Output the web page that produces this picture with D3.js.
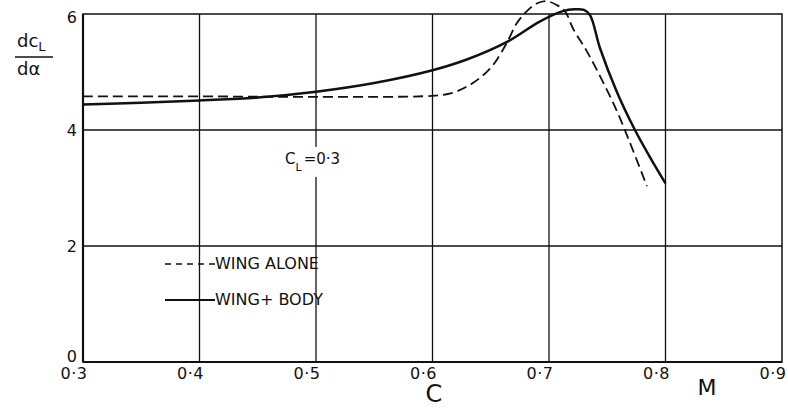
<!DOCTYPE html>
<html>
<head>
<meta charset="utf-8">
<script src="https://cdn.jsdelivr.net/npm/d3@7/dist/d3.min.js"></script>
<style>
  html, body { margin: 0; padding: 0; background: #fff; }
  svg { display: block; }
  text { font-family: "DejaVu Sans", sans-serif; fill: #111; }
</style>
</head>
<body>
<svg id="chart" width="788" height="408"></svg>
<script>
// Mach number ticks and lift-slope ticks
const machTicks = [0.3, 0.4, 0.5, 0.6, 0.7, 0.8, 0.9];
const machTickLabels = ["0·3", "0·4", "0·5", "0·6", "0·7", "0·8", "0·9"];
const slopeTicks = [0, 2, 4, 6];
const slopeTickLabels = ["0", "2", "4", "6"];

// Wing alone (dashed)
const machWingAlone  = [0.30, 0.40, 0.50, 0.60, 0.6155, 0.6288, 0.6408, 0.652, 0.6637, 0.6723, 0.681, 0.6894, 0.698, 0.7066, 0.7137, 0.7206, 0.7324, 0.7438, 0.755, 0.7627, 0.7841];
const slopeWingAlone = [4.58, 4.58, 4.57, 4.59, 4.63, 4.74, 4.90, 5.12, 5.50, 5.84, 6.05, 6.18, 6.22, 6.155, 6.05, 5.75, 5.36, 4.93, 4.47, 4.12, 3.03];

// Wing + body (solid)
const machWingBody  = [0.30, 0.35, 0.40, 0.45, 0.50, 0.55, 0.60, 0.63, 0.664, 0.692, 0.712, 0.722, 0.730, 0.7352, 0.7438, 0.758, 0.7738, 0.787, 0.800];
const slopeWingBody = [4.44, 4.47, 4.51, 4.56, 4.66, 4.81, 5.03, 5.22, 5.52, 5.87, 6.05, 6.08, 6.07, 5.98, 5.41, 4.67, 4.00, 3.52, 3.08];

const legendLabels = ["WING ALONE", "WING+ BODY"];
const annotation = { c: "C", sub: "L", rest: "=0·3", mach: 0.5, value: 3.45 };

const svg = d3.select("#chart");
const x = d3.scaleLinear().domain([0.3, 0.9]).range([83, 782]);
const y = d3.scaleLinear().domain([0, 6]).range([362, 14]);

const ink = "#111";

// grid
const grid = svg.append("g");
grid.selectAll("line.v").data(machTicks.slice(1, -1)).join("line")
  .attr("x1", d => x(d)).attr("x2", d => x(d))
  .attr("y1", y(6)).attr("y2", y(0))
  .attr("stroke", ink).attr("stroke-width", 1.3);
grid.selectAll("line.h").data(slopeTicks.slice(1, -1)).join("line")
  .attr("x1", x(0.3)).attr("x2", x(0.9))
  .attr("y1", d => y(d)).attr("y2", d => y(d))
  .attr("stroke", ink).attr("stroke-width", 1.3);

// frame
svg.append("rect")
  .attr("x", x(0.3)).attr("y", y(6))
  .attr("width", x(0.9) - x(0.3)).attr("height", y(0) - y(6))
  .attr("fill", "none").attr("stroke", ink).attr("stroke-width", 1.5);
svg.append("line").attr("x1", x(0.3)).attr("x2", x(0.3)).attr("y1", y(6)).attr("y2", y(0))
  .attr("stroke", ink).attr("stroke-width", 2.2);
svg.append("line").attr("x1", x(0.3)).attr("x2", x(0.9)).attr("y1", y(0)).attr("y2", y(0))
  .attr("stroke", ink).attr("stroke-width", 2.2);

// axes (labels only)
const xAxis = svg.append("g").attr("transform", `translate(0,${y(0)})`)
  .call(d3.axisBottom(x).tickValues(machTicks)
    .tickFormat((d, i) => machTickLabels[i]).tickSize(0).tickPadding(6));
xAxis.select(".domain").remove();
xAxis.selectAll("text").attr("text-anchor", "end").attr("dx", 4)
  .style("font-size", "16px").style("letter-spacing", "0.5px")
  .style("font-family", "DejaVu Sans, sans-serif").attr("fill", ink);

const yAxis = svg.append("g").attr("transform", `translate(${x(0.3)},0)`)
  .call(d3.axisLeft(y).tickValues(slopeTicks)
    .tickFormat((d, i) => slopeTickLabels[i]).tickSize(0).tickPadding(6));
yAxis.select(".domain").remove();
yAxis.selectAll("text").style("font-size", "16px")
  .style("font-family", "DejaVu Sans, sans-serif").attr("fill", ink)
  .attr("dy", d => d === 0 ? "-0.05em" : d === 6 ? "0.55em" : "0.32em");

// axis titles
svg.append("text").attr("x", 434).attr("y", 402).attr("text-anchor", "middle")
  .style("font-size", "24px").text("C");
svg.append("text").attr("x", 707).attr("y", 395).attr("text-anchor", "middle")
  .style("font-size", "22px").text("M");

const yt = svg.append("g");
const num = yt.append("text").attr("x", 17).attr("y", 47).style("font-size", "18px");
num.append("tspan").text("dc");
num.append("tspan").attr("dy", 4).style("font-size", "13px").text("L");
yt.append("line").attr("x1", 15).attr("x2", 53).attr("y1", 57).attr("y2", 57)
  .attr("stroke", ink).attr("stroke-width", 1.5);
yt.append("text").attr("x", 17).attr("y", 75).style("font-size", "18px").text("dα");

// curves
const line = d3.line().x(d => x(d[0])).y(d => y(d[1])).curve(d3.curveCatmullRom.alpha(0.5));
const wingAlone = machWingAlone.map((m, i) => [m, slopeWingAlone[i]]);
const wingBody = machWingBody.map((m, i) => [m, slopeWingBody[i]]);

svg.append("path").datum(wingAlone).attr("d", line)
  .attr("fill", "none").attr("stroke", ink).attr("stroke-width", 1.8)
  .attr("stroke-dasharray", "10,5");
svg.append("path").datum(wingBody).attr("d", line)
  .attr("fill", "none").attr("stroke", ink).attr("stroke-width", 2.5)
  .attr("stroke-linejoin", "round");

// C_L annotation with a gap in the grid behind it
const ax = x(annotation.mach), ay = y(annotation.value);
svg.append("rect").attr("x", ax - 32).attr("y", ay - 15).attr("width", 50).attr("height", 30)
  .attr("fill", "#fff");
const ann = svg.append("text").attr("x", ax - 31).attr("y", ay + 2).style("font-size", "15px");
ann.append("tspan").text(annotation.c);
ann.append("tspan").attr("dy", 7).style("font-size", "11px").text(annotation.sub);
ann.append("tspan").attr("dy", -7).attr("dx", 2).text(annotation.rest);

// legend
const legend = svg.append("g");
const legendY = [264, 300];
legend.append("line").attr("x1", 165).attr("x2", 215).attr("y1", legendY[0]).attr("y2", legendY[0])
  .attr("stroke", ink).attr("stroke-width", 1.6).attr("stroke-dasharray", "6,5");
legend.append("line").attr("x1", 165).attr("x2", 215).attr("y1", legendY[1]).attr("y2", legendY[1])
  .attr("stroke", ink).attr("stroke-width", 2.2);
legend.selectAll("text").data(legendLabels).join("text")
  .attr("x", 215).attr("y", (d, i) => legendY[i] + 5)
  .style("font-size", "16px").text(d => d);
</script>
</body>
</html>
